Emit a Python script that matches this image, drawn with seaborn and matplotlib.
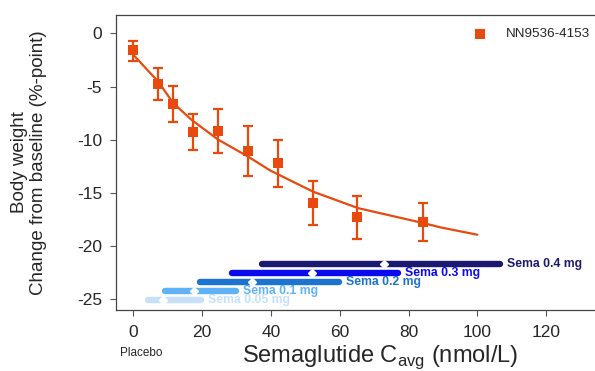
import numpy as np
import pandas as pd
import seaborn as sns
import matplotlib
matplotlib.use("Agg")
import matplotlib.pyplot as plt

# observed body weight change by concentration bin
conc = [0, 7.3, 11.5, 17.4, 24.6, 33.4, 42.1, 52.3, 65.0, 84.1]
bw_change = [-1.6, -4.8, -6.6, -9.3, -9.2, -11.1, -12.2, -16.0, -17.3, -17.75]
bw_lower = [-2.55, -6.3, -8.35, -10.95, -11.3, -13.4, -14.45, -18.0, -19.35, -19.55]
bw_upper = [-0.7, -3.3, -4.95, -7.6, -7.15, -8.75, -10.05, -13.9, -15.3, -16.0]

# model curve
curve_x = [0, 7.3, 11.6, 17.0, 24.7, 33.4, 39.8, 52.3, 65.4, 84.3, 89.2, 100]
curve_y = [-2.0, -4.55, -6.55, -8.15, -10.0, -11.6, -12.9, -14.9, -16.45, -17.85, -18.25, -18.95]

# exposure ranges per dose
doses = ["Sema 0.05 mg", "Sema 0.1 mg", "Sema 0.2 mg", "Sema 0.3 mg", "Sema 0.4 mg"]
exp_low = [4.3, 9.3, 19.3, 28.6, 37.4]
exp_high = [19.6, 29.8, 59.7, 76.9, 106.5]
exp_median = [8.7, 17.8, 34.6, 51.9, 72.8]
exp_level = [-25.05, -24.25, -23.4, -22.55, -21.7]
dose_colors = ["#c6e0fc", "#5fb2f7", "#1c74cf", "#0a0aee", "#1b1a70"]

orange = "#e84a0e"

sns.set_style("white")
plt.rcParams["font.family"] = ["Liberation Sans", "DejaVu Sans"]
plt.rcParams["axes.unicode_minus"] = False

fig = plt.figure(figsize=(5.95, 3.71), dpi=100)
ax = fig.add_axes([0.195, 0.164, 0.805, 0.796])

obs = pd.DataFrame({"conc": conc, "bw": bw_change})
fit = pd.DataFrame({"conc": curve_x, "bw": curve_y})

sns.lineplot(x="conc", y="bw", data=fit, color=orange, lw=1.6, ax=ax, sort=False)
yerr = [np.array(bw_change) - np.array(bw_lower), np.array(bw_upper) - np.array(bw_change)]
ax.errorbar(conc, bw_change, yerr=yerr, fmt="none", ecolor=orange, elinewidth=1.6,
            capsize=3.8, capthick=1.6, zorder=3)
sns.scatterplot(x="conc", y="bw", data=obs, marker="s", s=62, color=orange,
                edgecolor=orange, linewidth=0, ax=ax, zorder=4, label="NN9536-4153")

for name, lo, hi, med, lev, col in zip(doses, exp_low, exp_high, exp_median, exp_level, dose_colors):
    ax.plot([lo, hi], [lev, lev], color=col, lw=4.6, solid_capstyle="round", zorder=2)
    ax.plot(med, lev, marker="D", ms=3.6, color="white", mec="white", zorder=3)
    ax.text(hi + 2.2, lev, name, color=col, fontsize=8.8, fontweight="bold",
            va="center", ha="left", zorder=1)

ax.set_xlim(-5, 134.2)
ax.set_ylim(-26.05, 1.75)
ax.set_xticks(np.arange(0, 121, 20))
ax.set_yticks(np.arange(0, -26, -5))
ax.tick_params(axis="both", direction="out", length=4, width=0.8, color="#555",
               labelsize=12.5, left=True, bottom=True)
ax.tick_params(axis="y", pad=6)
ax.tick_params(axis="x", pad=7)

for side in ["left", "bottom", "top"]:
    ax.spines[side].set_color("#444")
    ax.spines[side].set_linewidth(0.9)
ax.spines["right"].set_visible(False)

ax.set_xlabel("Semaglutide C$_{\\mathregular{avg}}$ (nmol/L)", fontsize=17)
ax.xaxis.set_label_coords(0.551, -0.112)
ax.set_ylabel("Body weight\nChange from baseline (%-point)", fontsize=13.5, linespacing=1.1)
ax.yaxis.set_label_coords(-0.145, 0.5)

fig.text(141 / 595, 1 - 353 / 371, "Placebo", fontsize=8.5, ha="center", va="center")

ax.legend(loc="center left", bbox_to_anchor=(473.5 / 595, 1 - 34 / 371),
          bbox_transform=fig.transFigure, frameon=False, fontsize=9.7,
          handlelength=1.0, handletextpad=1.4, borderpad=0, borderaxespad=0)

fig.savefig("out.png", dpi=100)
